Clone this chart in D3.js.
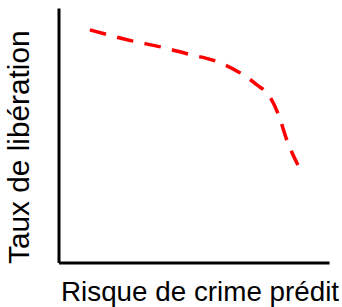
<!DOCTYPE html>
<html>
<head>
<meta charset="utf-8">
<script src="https://cdn.jsdelivr.net/npm/d3@7"></script>
<style>
  body { margin: 0; background: #fff; }
  svg { display: block; }
</style>
</head>
<body>
<svg id="chart"></svg>
<script>
// predicted risk (x) vs release rate (y), both on a 0-1 scale
var risk = [0.116, 0.275, 0.379, 0.479, 0.579, 0.667, 0.730, 0.782, 0.811, 0.848, 0.885];
var releaseRate = [0.914, 0.870, 0.847, 0.819, 0.792, 0.748, 0.701, 0.650, 0.587, 0.470, 0.383];
var xLabel = "Risque de crime prédit";
var yLabel = "Taux de libération";

var width = 342;
var height = 307;

var svg = d3.select("#chart")
  .attr("width", width)
  .attr("height", height);

var x = d3.scaleLinear().domain([0, 1]).range([58.5, 329]);
var y = d3.scaleLinear().domain([0, 1]).range([262.5, 8]);

svg.append("g")
  .attr("transform", "translate(0," + y(0) + ")")
  .call(d3.axisBottom(x).ticks(0).tickSizeOuter(0))
  .select(".domain")
  .attr("stroke", "#000")
  .attr("stroke-width", 3);

svg.append("g")
  .attr("transform", "translate(" + x(0) + ",0)")
  .call(d3.axisLeft(y).ticks(0).tickSizeOuter(0))
  .select(".domain")
  .attr("stroke", "#000")
  .attr("stroke-width", 3);

var line = d3.line()
  .x(function (d, i) { return x(risk[i]); })
  .y(function (d, i) { return y(releaseRate[i]); })
  .curve(d3.curveMonotoneX);

var curve = svg.append("path")
  .datum(risk)
  .attr("d", line)
  .attr("fill", "none")
  .attr("stroke", "#ff0000")
  .attr("stroke-width", 3.5);

// stretch the dash pattern a bit so the line ends on a dash, not a gap
var len = curve.node().getTotalLength();
var n = Math.max(1, Math.round((len - 16) / 27));
var period = (len - 16) / n;
var dash = period * 16 / 27;
curve.attr("stroke-dasharray", dash + "," + (period - dash));

svg.append("text")
  .attr("x", 61)
  .attr("y", 301)
  .style("font-family", "'Liberation Sans', Arial, sans-serif")
  .style("font-size", "27.8px")
  .text(xLabel);

svg.append("text")
  .attr("transform", "translate(29,264) rotate(-90)")
  .style("font-family", "'Liberation Sans', Arial, sans-serif")
  .style("font-size", "29.8px")
  .text(yLabel);
</script>
</body>
</html>
